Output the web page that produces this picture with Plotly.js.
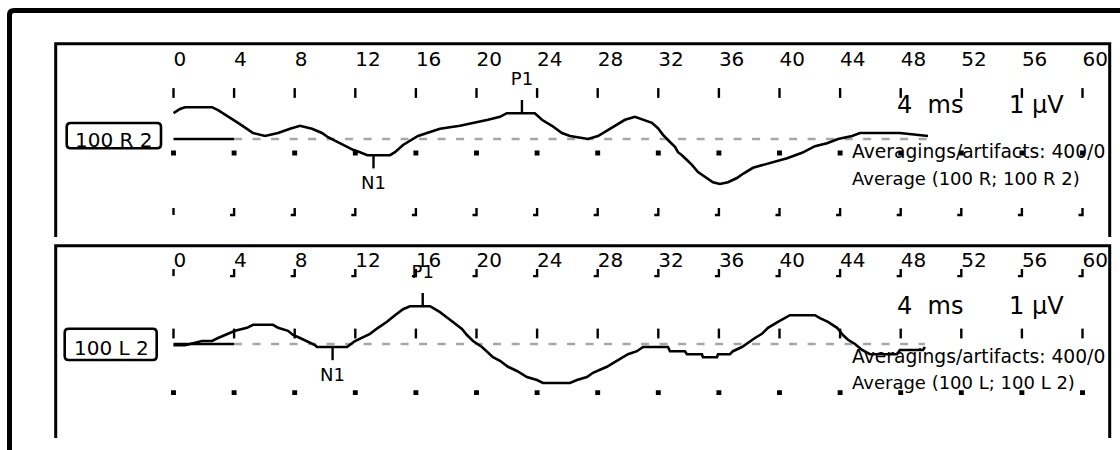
<!DOCTYPE html>
<html>
<head>
<meta charset="utf-8">
<script src="https://cdn.plot.ly/plotly-3.0.1.min.js"></script>
<style>html,body{margin:0;padding:0;background:#fff;}#chart{width:1120px;height:450px;}</style>
</head>
<body>
<div id="chart"></div>
<script>
// ---------- data ----------
const tickMs = [0,4,8,12,16,20,24,28,32,36,40,44,48,52,56,60];
const tickLabels = ['0','4','8','12','16','20','24','28','32','36','40','44','48','52','56','60'];

// upper trace: 100 R 2 (time in ms, amplitude in µV)
const upperT = [0,0.43,0.76,2.54,2.94,3.66,4.26,4.85,5.25,6.04,6.9,7.69,8.35,9.14,9.8,10.2,10.79,11.32,11.85,12.31,12.8,14.29,14.62,15.15,15.48,16.14,16.73,17.59,18.91,19.9,20.76,21.55,22.0,23.85,24.32,24.98,25.64,26.17,27.36,28.02,28.35,28.81,29.14,29.8,30.46,30.99,31.58,31.98,32.31,32.77,33.1,33.3,33.56,33.89,34.22,34.62,35.08,35.61,36.07,36.6,37.19,37.59,38.25,38.91,39.7,40.5,41.49,42.34,43.14,43.86,44.79,45.31,47.95,49.8];
const upperV = [0.43,0.5,0.53,0.53,0.48,0.37,0.27,0.17,0.1,0.05,0.1,0.17,0.22,0.17,0.1,0.03,-0.05,-0.12,-0.18,-0.22,-0.27,-0.27,-0.22,-0.1,-0.05,0.05,0.1,0.17,0.22,0.27,0.32,0.37,0.43,0.43,0.32,0.22,0.1,0.05,0,0.05,0.1,0.18,0.23,0.32,0.37,0.32,0.27,0.18,0.07,-0.05,-0.13,-0.22,-0.27,-0.35,-0.43,-0.55,-0.63,-0.72,-0.75,-0.72,-0.65,-0.58,-0.48,-0.43,-0.38,-0.32,-0.23,-0.12,-0.07,0,0.05,0.1,0.1,0.05];

// lower trace: 100 L 2
const lowerT = [0,0.76,1.88,2.54,2.94,3.6,4.06,4.85,5.25,6.57,6.9,7.56,7.89,8.35,8.81,9.34,9.47,11.45,11.98,12.44,12.97,13.5,14.09,14.62,15.15,15.61,16.93,17.26,17.59,18.12,18.71,19.04,19.37,19.77,20.36,20.69,21.09,21.55,22.08,22.67,23.33,23.99,24.39,26.17,26.63,27.29,27.69,28.15,28.61,29.01,29.47,30.0,30.59,30.99,32.64,32.77,33.76,33.89,34.88,34.95,35.87,35.94,36.73,36.93,37.52,38.05,38.38,38.84,39.24,39.9,40.36,40.69,42.34,42.67,43.2,43.8,44.19,44.52,44.98,45.45,45.97,47.76,47.95,49.47,49.6];
const lowerV = [-0.02,-0.02,0.05,0.05,0.1,0.17,0.22,0.27,0.32,0.32,0.27,0.22,0.15,0.1,0.05,-0.02,-0.05,-0.05,0.05,0.1,0.17,0.27,0.37,0.48,0.58,0.63,0.63,0.58,0.53,0.43,0.32,0.25,0.15,0.05,-0.05,-0.13,-0.22,-0.28,-0.38,-0.45,-0.55,-0.6,-0.65,-0.65,-0.6,-0.55,-0.48,-0.43,-0.38,-0.32,-0.25,-0.17,-0.12,-0.05,-0.05,-0.12,-0.12,-0.17,-0.17,-0.22,-0.22,-0.17,-0.17,-0.12,-0.05,0.05,0.1,0.17,0.27,0.37,0.43,0.48,0.48,0.43,0.37,0.27,0.15,0.07,0,-0.1,-0.17,-0.17,-0.1,-0.1,-0.05];

// baselines (ms)
const prestimT = [0, 4];
const baseUpperT = [4, 49.8];
const baseLowerT = [4, 49.6];

// peaks
const peakNameU = ['N1','P1'];
const peakLatU = [13.2, 23.0];
const peakAmpU = [-0.27, 0.43];
const peakNameL = ['N1','P1'];
const peakLatL = [10.5, 16.45];
const peakAmpL = [-0.05, 0.63];

// grid marker rows (µV level in each panel)
const gridDashU = 0.767, gridDotU = -0.233, gridLU = -1.208;
const gridLL = 1.19, gridDashL = 0.175, gridDotL = -0.81;

// panel texts
const panelNameU = '100 R 2';
const panelNameL = '100 L 2';
const timeScale = '4 ms';
const ampScale = '1 µV';
const avgTextU = 'Averagings/artifacts: 400/0';
const avgTextL = 'Averagings/artifacts: 400/0';
const srcTextU = 'Average (100 R; 100 R 2)';
const srcTextL = 'Average (100 L; 100 L 2)';

// ---------- geometry ----------
const W = 1120, H = 450;
const x0px = 173.5, pxPerMs = 15.15, pxPerUv = 60;
const baseUpx = 139, baseLpx = 344;
const xRange = [-x0px/pxPerMs, (W - x0px)/pxPerMs];
const yRangeU = [(baseUpx - H)/pxPerUv, baseUpx/pxPerUv];
const yRangeL = [(baseLpx - H)/pxPerUv, baseLpx/pxPerUv];

const FONT = 'DejaVu Sans';
const BLACK = '#000000';

function lTraces(level, xa, ya) {
  const xs = [], ys = [];
  const hv = 3.5/pxPerUv, hl = 4/pxPerMs;
  tickMs.forEach(t => {
    xs.push(t, t); ys.push(level + hv, level - hv);
    if (t > 0) { xs.push(t - hl); ys.push(level - hv); }
    xs.push(null); ys.push(null);
  });
  return {x: xs, y: ys, xaxis: xa, yaxis: ya, mode: 'lines', line: {color: BLACK, width: 2.4}, hoverinfo: 'skip', showlegend: false};
}
function markRow(level, symbol, size, xa, ya) {
  return {x: tickMs, y: tickMs.map(() => level), xaxis: xa, yaxis: ya, mode: 'markers',
    marker: {symbol: symbol, size: size, color: BLACK, line: {color: BLACK, width: 2.4}}, hoverinfo: 'skip', showlegend: false};
}
function peakTraces(names, lats, amps, xa, ya) {
  const tl = 0.22, xs = [], ys = [], ty = [];
  names.forEach((n, i) => {
    const s = n.charAt(0) === 'P' ? 1 : -1;
    xs.push(lats[i], lats[i], null); ys.push(amps[i], amps[i] + s*tl, null);
    ty.push(amps[i] + (s > 0 ? 0.55 : -0.49));
  });
  return [
    {x: xs, y: ys, xaxis: xa, yaxis: ya, mode: 'lines', line: {color: BLACK, width: 2.4}, hoverinfo: 'skip', showlegend: false},
    {x: lats, y: ty, text: names, xaxis: xa, yaxis: ya, mode: 'text', textposition: 'middle center',
     textfont: {family: FONT, size: 18, color: BLACK}, hoverinfo: 'skip', showlegend: false}
  ];
}
function panelTraces(T, V, baseT, names, lats, amps, xa, ya) {
  return [
    {x: baseT, y: baseT.map(() => 0), xaxis: xa, yaxis: ya, mode: 'lines', line: {color: '#a6a6a6', width: 2.5, dash: '8px,10.5px'}, hoverinfo: 'skip', showlegend: false},
    {x: prestimT, y: prestimT.map(() => 0), xaxis: xa, yaxis: ya, mode: 'lines', line: {color: BLACK, width: 2.5}, hoverinfo: 'skip', showlegend: false},
    {x: T, y: V, xaxis: xa, yaxis: ya, mode: 'lines', line: {color: BLACK, width: 2.6}, hoverinfo: 'skip', showlegend: false}
  ].concat(peakTraces(names, lats, amps, xa, ya));
}

const traces = [].concat(
  [markRow(gridDashU, 'line-ns', 7, 'x', 'y'), markRow(gridDotU, 'square', 2.5, 'x', 'y'), lTraces(gridLU, 'x', 'y')],
  [lTraces(gridLL, 'x2', 'y2'), markRow(gridDashL, 'line-ns', 7, 'x2', 'y2'), markRow(gridDotL, 'square', 2.5, 'x2', 'y2')],
  panelTraces(upperT, upperV, baseUpperT, peakNameU, peakLatU, peakAmpU, 'x', 'y'),
  panelTraces(lowerT, lowerV, baseLowerT, peakNameL, peakLatL, peakAmpL, 'x2', 'y2')
);

function rrect(x1, y1, x2, y2, r) {
  return `M ${x1+r} ${y1} L ${x2-r} ${y1} Q ${x2} ${y1} ${x2} ${y1+r} L ${x2} ${y2-r} Q ${x2} ${y2} ${x2-r} ${y2} L ${x1+r} ${y2} Q ${x1} ${y2} ${x1} ${y2-r} L ${x1} ${y1+r} Q ${x1} ${y1} ${x1+r} ${y1} Z`;
}
const shapes = [
  {type: 'path', xref: 'x3', yref: 'y3', path: 'M 9.5 460 L 9.5 15 Q 9.5 10.5 14 10.5 L 1130 10.5', line: {color: BLACK, width: 5}},
  {type: 'path', xref: 'x3', yref: 'y3', path: 'M 55.7 237 L 55.7 43.7 L 1109.7 43.7 L 1109.7 237', line: {color: BLACK, width: 3}},
  {type: 'path', xref: 'x3', yref: 'y3', path: 'M 55.7 438 L 55.7 245.7 L 1109.7 245.7 L 1109.7 438', line: {color: BLACK, width: 3}},
  {type: 'path', xref: 'x3', yref: 'y3', path: rrect(66.7, 123, 161, 148.3, 4), line: {color: BLACK, width: 2.6}},
  {type: 'path', xref: 'x3', yref: 'y3', path: rrect(64.7, 328.7, 156.7, 360, 4), line: {color: BLACK, width: 2.6}}
];

function ann(text, x, y, size, xanchor) {
  return {text: text, x: x, y: y, xref: 'x3', yref: 'y3', xanchor: xanchor || 'left', yanchor: 'middle', showarrow: false,
    font: {family: FONT, size: size, color: BLACK}};
}
const wide = s => s.replace(' ', '\u00a0\u00a0');
const annotations = [
  ann(panelNameU, 113.5, 140, 20, 'center'),
  ann(panelNameL, 111, 348, 20, 'center'),
  ann(wide(timeScale), 895, 105, 24), ann(ampScale, 1007, 105, 24),
  ann(wide(timeScale), 895, 306, 24), ann(ampScale, 1007, 306, 24),
  ann(avgTextU, 850, 151, 18.7), ann(srcTextU, 850, 178, 18),
  ann(avgTextL, 850, 356, 18.7), ann(srcTextL, 850, 382, 18)
];

const xBase = {range: xRange, domain: [0, 1], anchor: 'free', side: 'top', tickmode: 'array', tickvals: tickMs, ticktext: tickLabels,
  ticks: '', showline: false, showgrid: false, zeroline: false, ticklabelposition: 'outside right', ticklabelstandoff: 0,
  tickfont: {family: FONT, size: 20, color: BLACK}, fixedrange: true};
const layout = {
  width: W, height: H, margin: {l: 0, r: 0, t: 0, b: 0, pad: 0},
  paper_bgcolor: '#ffffff', plot_bgcolor: '#ffffff', showlegend: false,
  xaxis: Object.assign({}, xBase, {position: 1 - 70/H}),
  xaxis2: Object.assign({}, xBase, {position: 1 - 271/H, overlaying: 'x'}),
  yaxis: {range: yRangeU, domain: [0, 1], visible: false, anchor: 'x', fixedrange: true},
  yaxis2: {range: yRangeL, domain: [0, 1], visible: false, anchor: 'x2', overlaying: 'y', fixedrange: true},
  xaxis3: {range: [0, W], domain: [0, 1], visible: false, overlaying: 'x', anchor: 'y3', fixedrange: true},
  yaxis3: {range: [H, 0], domain: [0, 1], visible: false, overlaying: 'y', anchor: 'x3', fixedrange: true},
  shapes: shapes, annotations: annotations
};
Plotly.newPlot('chart', traces, layout, {staticPlot: true, displayModeBar: false});
</script>
</body>
</html>
